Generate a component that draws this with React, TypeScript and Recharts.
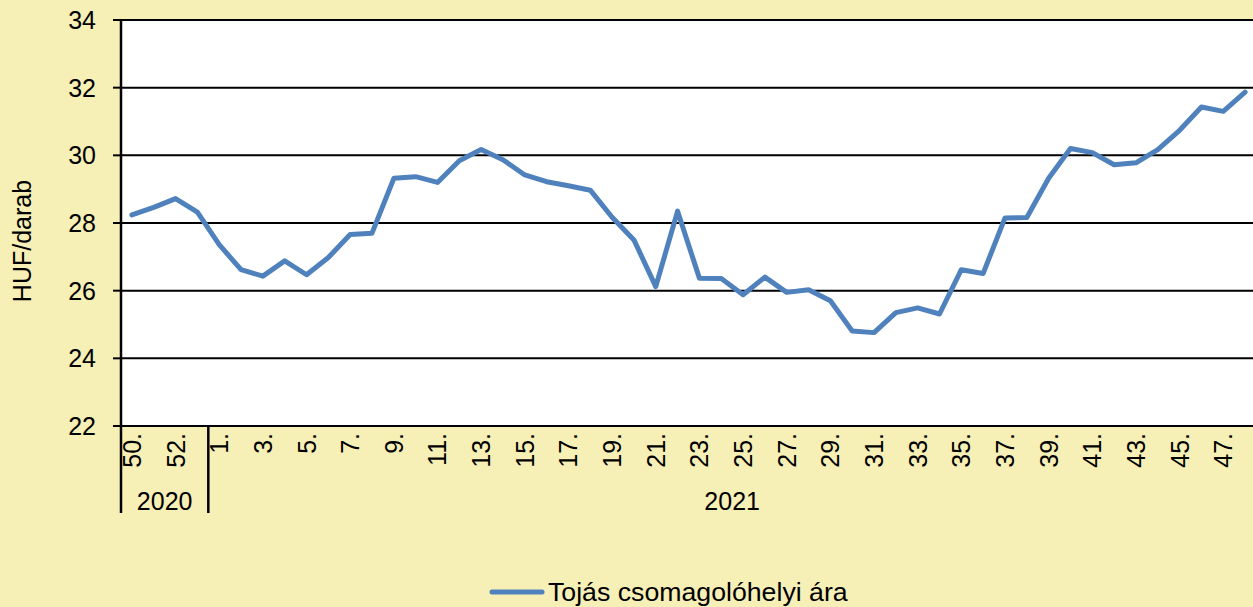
import React from "react";
import { LineChart, Line, XAxis, YAxis, CartesianGrid, Legend } from "recharts";

const weeks: string[] = [
  "50.", "51.", "52.", "53.",
  "1.", "2.", "3.", "4.", "5.", "6.", "7.", "8.", "9.", "10.", "11.", "12.",
  "13.", "14.", "15.", "16.", "17.", "18.", "19.", "20.", "21.", "22.", "23.", "24.",
  "25.", "26.", "27.", "28.", "29.", "30.", "31.", "32.", "33.", "34.", "35.", "36.",
  "37.", "38.", "39.", "40.", "41.", "42.", "43.", "44.", "45.", "46.", "47.", "48.",
];

const prices: number[] = [
  28.24, 28.46, 28.72, 28.32,
  27.36, 26.62, 26.43, 26.88, 26.47, 26.98, 27.66, 27.7, 29.32, 29.37, 29.2, 29.84,
  30.17, 29.87, 29.42, 29.22, 29.1, 28.97, 28.17, 27.5, 26.12, 28.35, 26.37, 26.36,
  25.88, 26.4, 25.95, 26.03, 25.7, 24.81, 24.76, 25.35, 25.49, 25.31, 26.62, 26.51,
  28.15, 28.16, 29.32, 30.2, 30.08, 29.72, 29.78, 30.17, 30.74, 31.43, 31.3, 31.87,
];

const yearLabels = [
  { label: "2020", start: 0, end: 4 },
  { label: "2021", start: 4, end: 52 },
];

const yTicks: number[] = [22, 24, 26, 28, 30, 32, 34];

const seriesName = "Tojás csomagolóhelyi ára";

const data = weeks.map((w, i) => ({ week: w, price: prices[i] }));

const FONT = "'Liberation Sans', Arial, Helvetica, sans-serif";
const CHART_W = 1256;
const CHART_H = 607;
const Y_AXIS_W = 121;
const PLOT_W = CHART_W - Y_AXIS_W;
const STEP = PLOT_W / weeks.length;
const BG = "#F6EFB6";
const LINE_COLOR = "#4F81BD";

const WeekTick = (props: any) => {
  const { x, y, index, payload } = props;
  const items: React.ReactNode[] = [];
  if (index % 2 === 0) {
    items.push(
      <text
        key="t"
        transform={`translate(${x},${y + 7}) rotate(-90)`}
        textAnchor="end"
        dy="0.36em"
        fontSize={25}
        fontFamily={FONT}
        fill="#000"
      >
        {payload.value}
      </text>
    );
  }
  yearLabels.forEach((g, gi) => {
    if (index === g.start) {
      items.push(
        <line
          key={"s" + gi}
          x1={x - STEP / 2}
          x2={x - STEP / 2}
          y1={y}
          y2={y + 87}
          stroke="#000"
          strokeWidth={2.5}
        />
      );
    }
    const mid = (g.start + g.end) / 2;
    if (index === Math.floor(mid - 0.5)) {
      const cx = x + (mid - 0.5 - index) * STEP;
      items.push(
        <text
          key={"y" + gi}
          x={cx}
          y={y + 84}
          textAnchor="middle"
          fontSize={25}
          fontFamily={FONT}
          fill="#000"
        >
          {g.label}
        </text>
      );
    }
  });
  return <g>{items}</g>;
};

const LegendContent = () => (
  <div style={{ position: "relative", width: "100%", height: 95 }}>
    <div
      style={{
        position: "absolute",
        left: 489,
        top: 66,
        display: "flex",
        alignItems: "center",
        fontFamily: FONT,
        fontSize: 26.7,
        color: "#000",
        lineHeight: "28px",
        whiteSpace: "nowrap",
      }}
    >
      <svg width={56} height={10} style={{ marginRight: 3 }}>
        <line x1={3} x2={53} y1={5} y2={5} stroke={LINE_COLOR} strokeWidth={5} strokeLinecap="round" />
      </svg>
      <span>{seriesName}</span>
    </div>
  </div>
);

const YLabel = () => (
  <text
    transform="translate(22,241) rotate(-90)"
    textAnchor="middle"
    dy="0.36em"
    fontSize={25}
    fontFamily={FONT}
    fill="#000"
  >
    HUF/darab
  </text>
);

export default function App() {
  return (
    <div
      style={{
        position: "absolute",
        left: 0,
        top: 0,
        width: 1253,
        height: CHART_H,
        overflow: "hidden",
        background: BG,
      }}
    >
      <LineChart
        width={CHART_W}
        height={CHART_H}
        data={data}
        margin={{ top: 20, right: 0, left: 0, bottom: 0 }}
      >
        <CartesianGrid horizontal vertical={false} stroke="#000" strokeWidth={2} fill="#fff" fillOpacity={1} />
        <XAxis
          dataKey="week"
          height={86}
          interval={0}
          tickSize={0}
          tickMargin={0}
          padding={{ left: STEP / 2, right: STEP / 2 }}
          axisLine={false}
          tickLine={false}
          tick={(p: any) => <WeekTick {...p} />}
        />
        <YAxis
          width={Y_AXIS_W}
          domain={[22, 34]}
          ticks={yTicks}
          interval={0}
          tickSize={8}
          tickMargin={17}
          axisLine={{ stroke: "#000", strokeWidth: 2.5 }}
          tickLine={{ stroke: "#000", strokeWidth: 2 }}
          tick={{ fontSize: 25, fill: "#000", fontFamily: FONT }}
          label={{ content: () => <YLabel /> }}
        />
        <Legend verticalAlign="bottom" content={() => <LegendContent />} />
        <Line
          type="linear"
          dataKey="price"
          name={seriesName}
          stroke={LINE_COLOR}
          strokeWidth={5}
          strokeLinejoin="round"
          strokeLinecap="round"
          dot={false}
          activeDot={false}
          isAnimationActive={false}
        />
      </LineChart>
    </div>
  );
}
